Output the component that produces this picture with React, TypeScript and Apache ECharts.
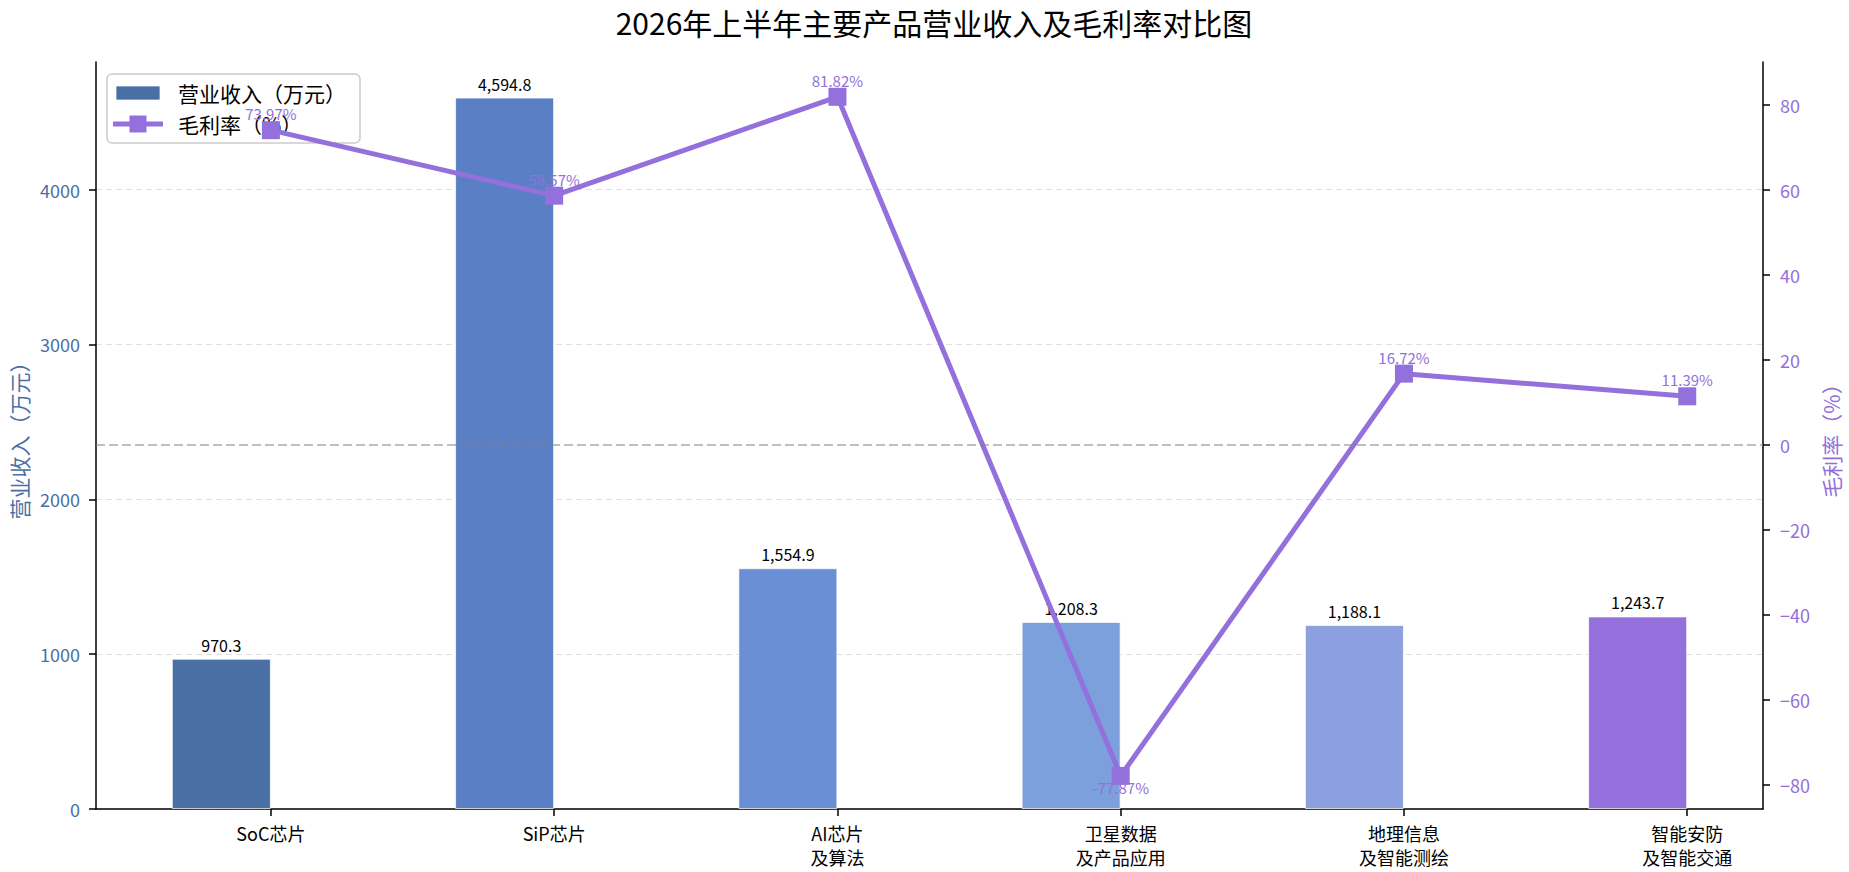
import React, { useEffect, useRef } from 'react';
import * as echarts from 'echarts';

const categories = ['SoC芯片', 'SiP芯片', 'AI芯片\n及算法', '卫星数据\n及产品应用', '地理信息\n及智能测绘', '智能安防\n及智能交通'];
const revenue = [970.3, 4594.8, 1554.9, 1208.3, 1188.1, 1243.7];
const grossMargin = [73.97, 58.57, 81.82, -77.87, 16.72, 11.39];
const barColors = ['#4A6FA5', '#5B7FC4', '#6B8FD4', '#7BA0DC', '#8CA0E0', '#9370DB'];
const revenueTicks = [0, 1000, 2000, 3000, 4000];
const marginTicks = [-80, -60, -40, -20, 0, 20, 40, 60, 80];
const categoryTicks = [0, 1, 2, 3, 4, 5];
const legendNames = ['营业收入（万元）', '毛利率（%）'];

const FONT = '"Noto Sans CJK SC", "Noto Sans", sans-serif';
const LINE_COLOR = '#9370DB';
const REV_COLOR = '#4A6FA5';

export default function App() {
  const ref = useRef<HTMLDivElement>(null);
  useEffect(() => {
    document.body.style.margin = '0';
    if (!ref.current) return;
    const chart = echarts.init(ref.current, null, { renderer: 'svg' });
    const revMax = Math.max(...revenue) * 1.05;
    const gmMax = Math.max(...grossMargin) * 1.1;
    const gmMin = Math.min(...grossMargin) * 1.1;
    const axisLineStyle = { color: '#000', width: 1.5 };
    chart.setOption({
      animation: false,
      textStyle: { fontFamily: FONT },
      title: {
        text: '2026年上半年主要产品营业收入及毛利率对比图',
        left: 929,
        top: 2,
        textAlign: 'center',
        textStyle: { fontSize: 30, fontWeight: 'normal', color: '#000', fontFamily: FONT },
      },
      graphic: [
        {
          type: 'rect',
          z: 1,
          shape: { x: 107, y: 74, width: 253, height: 69, r: 5 },
          style: { fill: 'rgba(255,255,255,0.8)', stroke: '#cccccc', lineWidth: 1.5 },
        },
        {
          type: 'rect',
          z: 1,
          shape: { x: 116, y: 86, width: 44, height: 14 },
          style: { fill: REV_COLOR, stroke: 'rgba(255,255,255,0.7)', lineWidth: 1 },
        },
        {
          type: 'text',
          z: 1,
          x: 178,
          y: 93,
          style: { text: legendNames[0], fontSize: 21, fontFamily: FONT, fill: '#000', verticalAlign: 'middle' },
        },
        {
          type: 'line',
          z: 1,
          shape: { x1: 113, y1: 124, x2: 163, y2: 124 },
          style: { stroke: LINE_COLOR, lineWidth: 5 },
        },
        {
          type: 'rect',
          z: 1,
          shape: { x: 129.5, y: 115.5, width: 17, height: 17 },
          style: { fill: LINE_COLOR },
        },
        {
          type: 'text',
          z: 1,
          x: 178,
          y: 124,
          style: { text: legendNames[1], fontSize: 21, fontFamily: FONT, fill: '#000', verticalAlign: 'middle' },
        },
      ],
      grid: { left: 96, right: 86, top: 62, bottom: 63, containLabel: false, outerBoundsMode: 'none' },
      xAxis: {
        type: 'value',
        min: -0.6175,
        max: 5.2675,
        axisLine: { show: true, onZero: false, lineStyle: axisLineStyle },
        axisTick: { show: true, customValues: categoryTicks, length: 7, lineStyle: axisLineStyle },
        axisLabel: {
          customValues: categoryTicks,
          formatter: (v: number) => categories[Math.round(v)] ?? '',
          fontSize: 18,
          lineHeight: 24,
          color: '#000',
          margin: 12,
          fontFamily: FONT,
        },
        splitLine: { show: false },
      },
      yAxis: [
        {
          type: 'value',
          position: 'left',
          min: 0,
          max: revMax,
          interval: 1000,
          name: legendNames[0],
          nameLocation: 'middle',
          nameRotate: 90,
          nameGap: 58,
          nameTextStyle: { color: REV_COLOR, fontSize: 21, fontFamily: FONT },
          axisLine: { show: true, onZero: false, lineStyle: axisLineStyle },
          axisTick: { show: true, customValues: revenueTicks, length: 7, lineStyle: axisLineStyle },
          axisLabel: {
            customValues: revenueTicks,
            color: REV_COLOR,
            fontSize: 18,
            margin: 16,
            fontFamily: FONT,
            formatter: (v: number) => String(v),
          },
          splitLine: { show: true, lineStyle: { color: '#e0e0e0', width: 1, type: [6, 4] } },
        },
        {
          type: 'value',
          position: 'right',
          min: gmMin,
          max: gmMax,
          name: legendNames[1],
          nameLocation: 'middle',
          nameRotate: 90,
          nameGap: 55,
          nameTextStyle: { color: LINE_COLOR, fontSize: 21, fontFamily: FONT },
          axisLine: { show: true, onZero: false, lineStyle: axisLineStyle },
          axisTick: { show: true, customValues: marginTicks, length: 7, lineStyle: axisLineStyle },
          axisLabel: {
            customValues: marginTicks,
            color: LINE_COLOR,
            fontSize: 18,
            margin: 17,
            fontFamily: FONT,
            formatter: (v: number) => (v < 0 ? '\u2212' + Math.abs(v) : String(v)),
          },
          splitLine: { show: false },
        },
      ],
      series: [
        {
          name: legendNames[0],
          type: 'bar',
          xAxisIndex: 0,
          yAxisIndex: 0,
          barWidth: 99,
          z: 2,
          itemStyle: { color: REV_COLOR, borderColor: 'rgba(255,255,255,0.7)', borderWidth: 1 },
          data: revenue.map((v, i) => ({ value: [i - 0.175, v], itemStyle: { color: barColors[i] } })),
          label: {
            show: true,
            position: 'top',
            distance: 6,
            fontSize: 16,
            color: '#000',
            fontFamily: FONT,
            formatter: (p: any) =>
              Number(p.value[1]).toLocaleString('en-US', { minimumFractionDigits: 1, maximumFractionDigits: 1 }),
          },
        },
        {
          name: legendNames[1],
          type: 'line',
          xAxisIndex: 0,
          yAxisIndex: 1,
          z: 3,
          symbol: 'rect',
          symbolSize: 18,
          lineStyle: { color: LINE_COLOR, width: 5 },
          itemStyle: { color: LINE_COLOR },
          data: grossMargin.map((v, i) => ({
            value: [i, v],
            label: v < 0 ? { position: 'bottom', distance: -5 } : { position: 'top', distance: 0 },
          })),
          label: {
            show: true,
            fontSize: 15,
            color: LINE_COLOR,
            fontFamily: FONT,
            formatter: (p: any) => Number(p.value[1]).toFixed(2) + '%',
          },
          markLine: {
            silent: true,
            symbol: ['none', 'none'],
            label: { show: false },
            lineStyle: { color: 'rgba(128,128,128,0.5)', width: 2, type: [9, 4] },
            data: [{ yAxis: 0 }],
          },
        },
      ],
    });
    return () => chart.dispose();
  }, []);
  return <div ref={ref} style={{ width: 1849, height: 872 }} />;
}
